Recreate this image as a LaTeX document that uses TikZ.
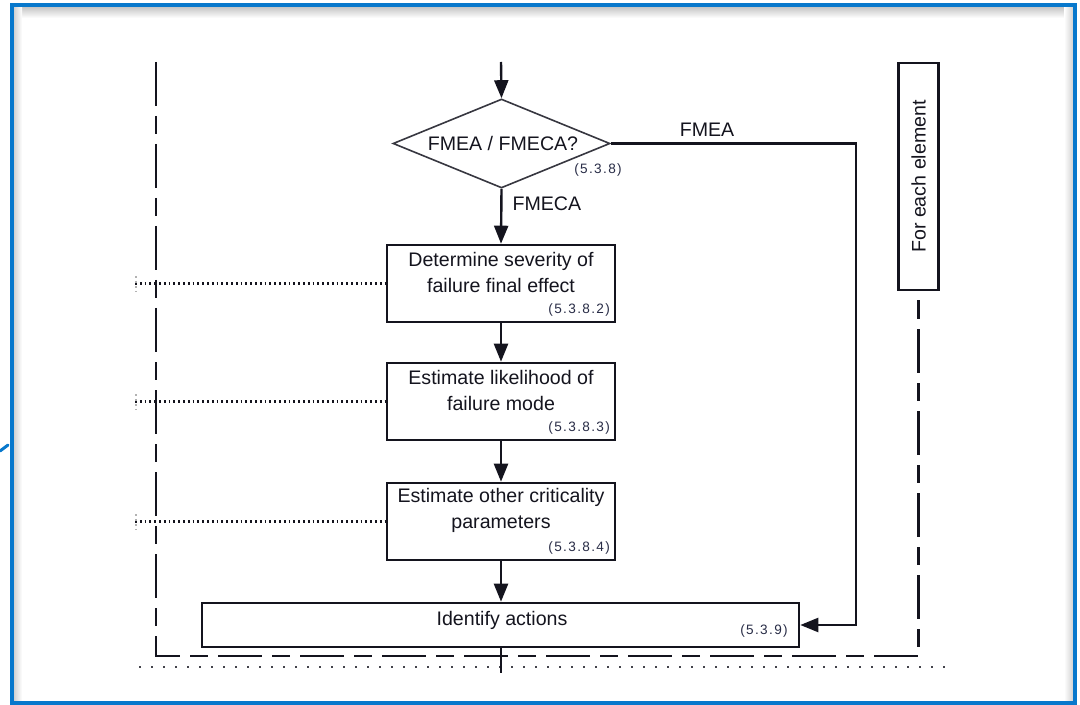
\documentclass[tikz,border=0pt]{standalone}
\usepackage{fontspec}
\setmainfont{Liberation Sans}
\newfontfamily\reffont[LetterSpace=10]{Liberation Sans}
\usetikzlibrary{shapes.geometric,arrows.meta}
\definecolor{frameblue}{RGB}{8,120,204}
\definecolor{ink}{RGB}{20,20,30}
\definecolor{refink}{RGB}{40,44,70}
\begin{document}
\begin{tikzpicture}[x=0.5pt,y=-0.5pt,
  box/.style={draw=ink, line width=1.3pt, minimum width=114pt, minimum height=38.5pt, inner sep=0pt},
  txt/.style={text=ink, font=\fontsize{9.8pt}{13pt}\selectfont, align=center, inner sep=0pt},
  reftxt/.style={text=refink, font=\reffont\fontsize{6.8pt}{8pt}\selectfont, inner sep=0pt},
  arr/.style={draw=ink, line width=1.2pt, -{Triangle[width=7pt,length=9pt]}},
  plainline/.style={draw=ink, line width=1.2pt},
  loopline/.style={draw=ink, line width=1.3pt, dash pattern=on 22pt off 5pt on 9pt off 5pt},
  dotline/.style={draw=ink, line width=1.3pt, dash pattern=on 0.9pt off 1.5pt},
  spacedots/.style={draw=ink!80, line width=0.9pt, dash pattern=on 0.9pt off 5.1pt},
]
\useasboundingbox (0,0) rectangle (1080,705);

% window frame with its inner shadow
\shade[top color=gray!45, bottom color=white] (14,7) rectangle (1073,18);
\shade[left color=gray!35, right color=white] (14,7) rectangle (22,703);
\shade[left color=white, right color=gray!35] (1064,7) rectangle (1073,703);
\draw[frameblue, line width=2pt] (12,5) rectangle (1075,703);
\draw[frameblue, line width=1.5pt, line cap=round] (0,451) -- (8,445);

% loop boundary (for each element)
\node[draw=ink, line width=1.2pt, rotate=90, minimum width=113.5pt, minimum height=20pt, inner sep=0pt,
      text=ink, font=\fontsize{9.8pt}{12pt}\selectfont] (fe) at (918.5,176.5) {For each element};
\coordinate (lt) at (156,62);
\coordinate (lb) at (156,656);
\draw[loopline] (lt) -- (lb) -| (fe.west);

% dotted level line along the bottom
\coordinate (bl) at (139,667);
\coordinate (br) at (945,667);
\draw[spacedots] (bl) -- (br);

% decision
\coordinate (in) at (501,62);
\node[diamond, draw=ink!85, line width=0.8pt, minimum width=108.5pt, minimum height=44.5pt, inner sep=0pt] (dia) at (501.5,143.5) {};
\node[txt] (diatxt) at (503,143) {FMEA / FMECA?};
\node[reftxt] (diaref) at (598,170) {(5.3.8)};
\draw[arr] (in) -- (dia.north);

% process steps
\node[box] (b1) at (501,283.5) {};
\node[txt] (b1t) at ([yshift=5.3pt]b1.center) {Determine severity of\\failure final effect};
\node[reftxt, anchor=south east] (b1r) at ([xshift=-3pt,yshift=3.2pt]b1.south east) {(5.3.8.2)};

\node[box] (b2) at (501,401.5) {};
\node[txt] (b2t) at ([yshift=5.3pt]b2.center) {Estimate likelihood of\\failure mode};
\node[reftxt, anchor=south east] (b2r) at ([xshift=-3pt,yshift=3.2pt]b2.south east) {(5.3.8.3)};

\node[box] (b3) at (501,521.5) {};
\node[txt] (b3t) at ([yshift=5.3pt]b3.center) {Estimate other criticality\\parameters};
\node[reftxt, anchor=south east] (b3r) at ([xshift=-3pt,yshift=3.2pt]b3.south east) {(5.3.8.4)};

\node[box, minimum width=298.5pt, minimum height=22pt] (b4) at (500.5,625) {};
\node[txt] (b4t) at (502,620) {Identify actions};
\node[reftxt] (b4r) at (764,631) {(5.3.9)};

% main flow
\draw[arr] (dia.south) -- (b1.north) node[pos=0.28, right=5pt, txt] (lfmeca) {FMECA};
\draw[arr] (b1.south) -- (b2.north);
\draw[arr] (b2.south) -- (b3.north);
\draw[arr] (b3.south) -- (b3.south |- b4.north);
\coordinate (out) at (501,673);
\draw[plainline] (b3.south |- b4.south) -- (out);

% FMEA bypass
\coordinate (fmeacorner) at (856,143.5);
\draw[arr] (dia.east) -- (fmeacorner) |- (b4.east);
\node[txt] (lfmea) at (707,130) {FMEA};

% dotted links to the left
\coordinate (d1) at (135,283.5);
\coordinate (d2) at (135,401.5);
\coordinate (d3) at (135,521.5);
\draw[dotline] (d1) -- (b1.west);
\draw[dotline] (d2) -- (b2.west);
\draw[dotline] (d3) -- (b3.west);
\draw[gray!60, line width=0.6pt, dash pattern=on 1pt off 1.5pt] (136,276) -- (136,292);
\draw[gray!60, line width=0.6pt, dash pattern=on 1pt off 1.5pt] (136,394) -- (136,410);
\draw[gray!60, line width=0.6pt, dash pattern=on 1pt off 1.5pt] (136,514) -- (136,530);
\end{tikzpicture}
\end{document}
